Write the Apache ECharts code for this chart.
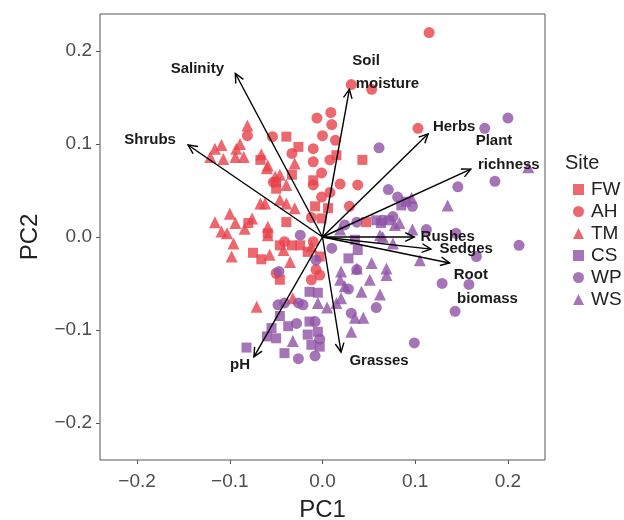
<!DOCTYPE html>
<html>
<head>
<meta charset="utf-8">
<script src="https://cdn.jsdelivr.net/npm/echarts@6/dist/echarts.min.js"></script>
<style>
html,body{margin:0;padding:0;background:#fff;}
#chart{width:624px;height:520px;}
</style>
</head>
<body>
<div id="chart"></div>
<script>
// PCA biplot - site scores
var fw = [[-0.039,0.108],[-0.026,0.097],[-0.067,0.083],[-0.033,0.067],[-0.050,0.052],[-0.010,0.061],[-0.008,0.033],[-0.039,0.016],[-0.080,0.015],[-0.075,-0.017],[-0.066,-0.024],[-0.059,0.004],[-0.033,-0.009],[0.043,0.083],[0.015,0.088],[0.006,0.031],[-0.001,0.020],[0.047,0.016],[-0.024,-0.009],[-0.016,-0.016],[-0.003,-0.021],[-0.046,-0.046],[-0.046,-0.009],[-0.050,0.059]];
var ah = [[0.115,0.220],[0.031,0.164],[0.053,0.159],[0.103,0.117],[0.009,0.134],[-0.006,0.128],[0.010,0.121],[0.000,0.109],[0.014,0.104],[-0.081,0.109],[-0.054,0.108],[-0.033,0.090],[-0.010,0.095],[-0.010,0.081],[0.008,0.083],[-0.053,0.059],[-0.001,0.069],[0.019,0.057],[0.038,0.056],[-0.010,0.056],[0.008,0.048],[-0.001,0.043],[0.029,0.033],[-0.012,0.021],[-0.041,-0.005],[-0.010,-0.005],[-0.007,-0.035],[-0.050,-0.039],[-0.012,-0.046],[-0.003,-0.041]];
var tm = [[-0.081,0.120],[-0.116,0.095],[-0.109,0.099],[-0.121,0.086],[-0.107,0.084],[-0.094,0.086],[-0.093,0.095],[-0.089,0.100],[-0.085,0.086],[-0.066,0.089],[-0.059,0.077],[-0.030,0.079],[-0.046,0.067],[-0.039,0.056],[-0.046,0.040],[-0.039,0.036],[-0.030,0.031],[-0.067,0.036],[-0.062,0.036],[-0.100,0.025],[-0.116,0.016],[-0.094,0.015],[-0.084,0.009],[-0.076,0.020],[-0.109,0.006],[-0.059,0.011],[-0.059,0.002],[-0.103,0.004],[-0.096,-0.007],[-0.098,-0.021],[-0.057,-0.019],[-0.042,-0.014],[-0.035,-0.027],[-0.071,-0.075],[-0.032,-0.066],[-0.060,0.074],[-0.051,0.065],[-0.012,-0.010]];
var cs = [[-0.082,-0.119],[-0.060,-0.107],[-0.050,-0.109],[-0.041,-0.125],[-0.037,-0.096],[-0.046,-0.085],[-0.016,-0.105],[-0.014,-0.091],[-0.012,-0.116],[-0.005,-0.102],[-0.055,-0.098],[-0.014,-0.059],[-0.005,-0.060],[-0.003,-0.118],[0.028,-0.023],[0.038,-0.014],[0.035,-0.003],[0.058,0.018],[0.063,0.015],[0.072,0.018],[0.085,0.034],[0.090,0.038]];
var wp = [[0.061,0.096],[0.175,0.117],[0.200,0.128],[0.146,0.054],[0.186,0.060],[0.071,0.051],[0.081,0.043],[0.097,0.033],[0.212,-0.009],[0.112,0.008],[0.144,0.004],[0.166,-0.021],[0.129,-0.050],[0.158,-0.051],[0.143,-0.080],[0.058,-0.076],[0.099,-0.114],[0.010,-0.012],[0.037,-0.035],[0.028,-0.056],[0.031,-0.082],[0.065,0.018],[0.076,0.022],[0.037,0.016],[0.024,0.013],[-0.024,0.002],[-0.007,-0.025],[-0.048,-0.073],[-0.041,-0.071],[-0.026,-0.071],[-0.021,-0.073],[-0.028,-0.093],[-0.008,-0.091],[-0.003,-0.110],[-0.026,-0.131],[-0.008,-0.128],[-0.047,-0.037]];
var ws = [[0.222,0.075],[0.135,0.034],[0.105,-0.025],[0.097,0.008],[0.065,0.000],[0.053,-0.028],[0.069,-0.034],[0.062,-0.062],[0.083,0.015],[0.096,0.042],[0.019,0.008],[0.078,0.013],[0.037,-0.034],[0.020,-0.037],[0.019,-0.046],[0.051,-0.046],[0.042,-0.059],[0.020,-0.066],[0.005,-0.076],[0.035,-0.087],[0.044,-0.087],[0.031,-0.102],[0.062,0.002],[0.076,-0.007],[-0.032,-0.112],[0.015,-0.071],[0.024,-0.053],[-0.005,-0.071],[0.069,-0.041]];

// loadings (arrow tips)
var arrowNames = ['Salinity','Shrubs','Soil moisture','Herbs','Plant richness','Rushes','Sedges','Root biomass','Grasses','pH'];
var arrowTips = [[-0.094,0.176],[-0.145,0.099],[0.029,0.159],[0.114,0.111],[0.160,0.073],[0.099,0.000],[0.117,-0.013],[0.137,-0.028],[0.020,-0.124],[-0.074,-0.129]];

// arrow labels (data coords)
var labelText = ['Salinity','Shrubs','Soil','moisture','Herbs','Plant','richness','Rushes','Sedges','Root','biomass','Grasses','pH'];
var labelPos = [[-0.135,0.181],[-0.186,0.105],[0.047,0.190],[0.070,0.165],[0.142,0.118],[0.185,0.104],[0.201,0.078],[0.135,0.000],[0.155,-0.013],[0.160,-0.041],[0.178,-0.067],[0.061,-0.133],[-0.089,-0.138]];

var ticks = [-0.2,-0.1,0,0.1,0.2];

var red = '#E8414B';
var purple = '#8E52A6';

function fmt(v){
    return (v < 0 ? '\u2212' : '') + Math.abs(v).toFixed(1);
}

var myChart = echarts.init(document.getElementById('chart'));

function site(name, data, symbol, size, color){
    return {
        name: name,
        type: 'scatter',
        data: data,
        symbol: symbol,
        symbolSize: size,
        itemStyle: {color: color, opacity: 0.8},
        z: 2
    };
}

var axisCommon = {
    type: 'value',
    min: -0.24,
    max: 0.24,
    splitLine: {show: false},
    axisLine: {show: false, onZero: false},
    axisTick: {show: true, length: 4, customValues: ticks, lineStyle: {color: '#555'}},
    nameLocation: 'middle',
    nameTextStyle: {color: '#222', fontSize: 24, fontFamily: 'Liberation Sans'}
};

var option = {
    animation: false,
    backgroundColor: '#fff',
    title: {
        text: 'Site',
        left: 560,
        top: 148,
        textStyle: {fontSize: 20, fontWeight: 'normal', color: '#222', fontFamily: 'Liberation Sans'}
    },
    legend: {
        orient: 'vertical',
        left: 568,
        top: 175,
        itemWidth: 11,
        itemHeight: 11,
        itemGap: 3,
        data: ['FW','AH','TM','CS','WP','WS'],
        textStyle: {fontSize: 19, color: '#222', fontFamily: 'Liberation Sans', padding: [0, 0, 0, 2]}
    },
    grid: {
        left: 100, right: 79, top: 14, bottom: 60,
        outerBoundsMode: 'none',
        show: true, borderColor: '#555', borderWidth: 1
    },
    xAxis: Object.assign({}, axisCommon, {
        name: 'PC1', nameGap: 38,
        axisLabel: {customValues: ticks, formatter: fmt, margin: 12, color: '#4d4d4d', fontSize: 19, fontFamily: 'Liberation Sans'}
    }),
    yAxis: Object.assign({}, axisCommon, {
        name: 'PC2', nameGap: 58,
        axisLabel: {customValues: ticks, formatter: fmt, margin: 8, color: '#4d4d4d', fontSize: 19, fontFamily: 'Liberation Sans'}
    }),
    series: [
        site('FW', fw, 'rect', 10, red),
        site('AH', ah, 'circle', 11, red),
        site('TM', tm, 'triangle', 12, red),
        site('CS', cs, 'rect', 10, purple),
        site('WP', wp, 'circle', 11, purple),
        site('WS', ws, 'triangle', 12, purple),
        {
            type: 'custom',
            name: 'loadings',
            data: arrowTips,
            z: 5,
            silent: true,
            renderItem: function (params, api) {
                var o = api.coord([0, 0]);
                var t = api.coord([api.value(0), api.value(1)]);
                var ang = Math.atan2(t[1] - o[1], t[0] - o[0]);
                var h = 10, a = Math.PI / 7;
                return {
                    type: 'group',
                    children: [
                        {type: 'line', shape: {x1: o[0], y1: o[1], x2: t[0], y2: t[1]}, style: {stroke: '#000', lineWidth: 1.4}},
                        {type: 'polyline', shape: {points: [
                            [t[0] - h * Math.cos(ang - a), t[1] - h * Math.sin(ang - a)],
                            [t[0], t[1]],
                            [t[0] - h * Math.cos(ang + a), t[1] - h * Math.sin(ang + a)]
                        ]}, style: {stroke: '#000', fill: null, lineWidth: 1.4}}
                    ]
                };
            }
        },
        {
            type: 'custom',
            name: 'labels',
            data: labelPos,
            z: 6,
            silent: true,
            renderItem: function (params, api) {
                var p = api.coord([api.value(0), api.value(1)]);
                return {
                    type: 'text',
                    x: p[0],
                    y: p[1],
                    style: {
                        text: labelText[params.dataIndex],
                        fill: '#1a1a1a',
                        font: 'bold 15px "Liberation Sans"',
                        align: 'center',
                        verticalAlign: 'middle'
                    }
                };
            }
        }
    ]
};
myChart.setOption(option);
</script>
</body>
</html>
